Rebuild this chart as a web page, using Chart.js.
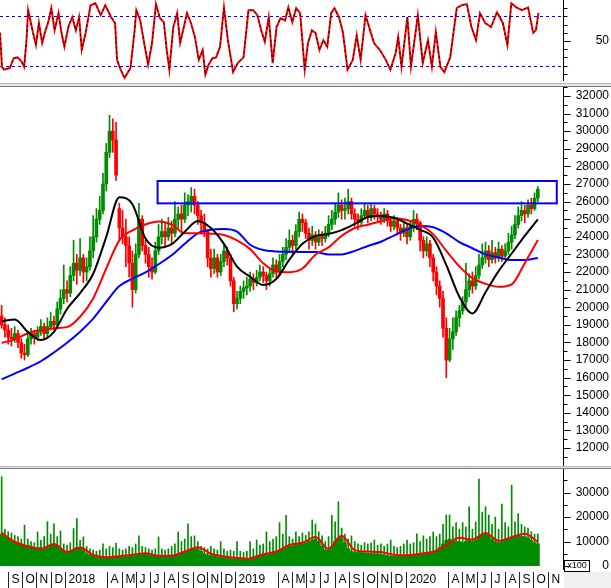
<!DOCTYPE html>
<html>
<head>
<meta charset="utf-8">
<title>Price chart</title>
<script src="https://cdn.jsdelivr.net/npm/chart.js@4.4.1/dist/chart.umd.min.js"></script>
<style>
  html, body { margin: 0; padding: 0; background: #fff; }
  #wrap { position: relative; width: 611px; height: 588px; overflow: hidden; background: #fff; }
  #wrap canvas { position: absolute; left: 0; }
  .sep { position: absolute; left: 0; width: 611px; height: 4px; box-sizing: border-box;
         background: #e6e6e6; border-top: 1px solid #b8b8b8; border-bottom: 1px solid #7a7a7a; }
</style>
</head>
<body>
<div id="wrap">
  <canvas id="stoch" width="611" height="83" style="top:0"></canvas>
  <div class="sep" style="top:83px"></div>
  <canvas id="price" width="611" height="379" style="top:87px"></canvas>
  <div class="sep" style="top:466px;height:3px"></div>
  <canvas id="volume" width="611" height="119" style="top:469px"></canvas>
</div>
<script>
// weekly bars, week 0 = mid Aug 2017, last week = mid Oct 2020
const openPx = [
  19500,19000,18700,18300,18200,18500,18000,17400,17300,18200,
  18500,18300,18600,18900,18500,18900,19200,19000,19900,20500,
  21000,20800,21800,22500,22100,22800,22000,22300,23200,24000,
  25000,25500,27000,28800,30000,29500,25600,24500,24000,23500,
  22500,21000,23000,25000,23500,23000,22300,22000,23200,24000,
  24300,24000,24500,24200,25000,25300,25000,25800,26000,26300,
  25800,25200,24800,24300,22800,22200,22800,22000,22600,23200,
  22800,21500,20200,20500,20900,21100,21200,21600,21400,21700,
  22000,21800,21500,21900,22400,22000,22600,23000,23400,23800,
  23500,24300,25000,24800,24200,23800,24100,23700,24000,23900,
  24200,24700,25000,25400,25800,25500,25600,26000,25300,25000,
  24800,25200,25500,25100,25600,25300,25200,25000,25300,24900,
  24600,24900,24500,24200,24500,24000,24600,25000,24800,23800,
  23200,23600,22800,22000,21200,20500,18800,17000,18200,18600,
  19400,19800,20300,21000,21500,21200,21800,22400,22800,23200,
  22700,23100,22800,23300,22900,23200,23700,24100,24700,25200,
  25500,25300,25800,25600,26200
];
const highPx = [
  20100,19400,19000,18800,18900,18700,18200,17900,18500,18800,
  18700,18900,19300,19100,19400,19700,19500,20300,21000,22400,
  21500,22300,23800,23000,23900,23000,22800,24000,25200,25600,
  26300,27600,29300,30900,30700,30500,25900,25500,25000,24000,
  23200,23600,25900,25200,23800,23400,22800,23700,24700,25000,
  24800,25100,24900,26000,25700,25800,26500,26400,26800,26700,
  26000,25500,25300,24400,23300,23300,23000,23000,23600,23400,
  23000,21700,20900,21200,21500,21700,22000,21900,22100,22400,
  22300,22000,22200,22800,22700,23000,23400,23900,24400,24100,
  24700,25400,25300,25000,24500,24600,24300,24400,24300,24600,
  25200,25500,25900,26500,26100,26200,26700,26200,25600,25300,
  25600,25900,25800,25900,25800,25600,25400,25600,25500,25100,
  25200,25100,24700,24900,24700,24900,25500,25300,24900,24000,
  24000,23800,23000,22300,21500,20900,19400,18800,19400,19800,
  20100,20600,22500,21900,22000,22300,23000,23600,23700,23500,
  23800,23400,23700,23500,23600,24200,24600,25200,25700,26000,
  25800,26100,26200,26500,26850
];
const lowPx = [
  18800,18300,17900,17800,18000,17700,17100,17000,17200,17900,
  17900,18100,18400,18200,18300,18700,18700,18900,19600,20200,
  20300,20600,21500,21300,21800,21400,21500,22100,22800,23700,
  24700,25300,26600,28500,28800,27200,23800,23600,22300,21700,
  20000,20800,22800,23200,22500,21700,21600,21900,23000,23600,
  23400,23800,23600,24000,24400,24200,24800,25200,25400,25300,
  24700,24300,24000,22300,21700,21900,21700,21800,22300,22400,
  21200,19750,19900,20200,20500,20700,20900,21000,21200,21500,
  21400,21000,21200,21700,21700,21800,22300,22700,23100,23000,
  23300,24000,24300,23900,23300,23500,23300,23500,23500,23700,
  24000,24400,24700,25100,25000,25000,25300,25000,24600,24400,
  24600,25000,24800,24900,25000,24900,24700,24800,24600,24300,
  24400,24100,23800,24000,23600,23800,24300,24400,23200,22800,
  22900,22300,21500,20700,20000,18300,16000,16900,17600,18400,
  18900,19600,20000,20600,20800,21000,21600,22200,22500,22300,
  22500,22500,22600,22600,22700,23000,23300,23900,24500,24900,
  24800,25100,25300,25500,26000
];
const closePx = [
  19000,18700,18300,18200,18500,18000,17400,17300,18200,18500,
  18300,18600,18900,18500,18900,19200,19000,19900,20500,21000,
  20800,21800,22500,22100,22800,22000,22300,23200,24000,25000,
  25500,27000,28800,30000,29500,27500,24500,24000,23500,22500,
  21000,23000,25000,23500,23000,22300,22000,23200,24000,24300,
  24000,24500,24200,25000,25300,25000,25800,26000,26300,25800,
  25200,24800,24300,22800,22200,22800,22000,22600,23200,22800,
  21500,20200,20500,20900,21100,21200,21600,21400,21700,22000,
  21800,21500,21900,22400,22000,22600,23000,23400,23800,23500,
  24300,25000,24800,24200,23800,24100,23700,24000,23900,24200,
  24700,25000,25400,25800,25500,25600,26000,25300,25000,24800,
  25200,25500,25100,25600,25300,25200,25000,25300,24900,24600,
  24900,24500,24200,24500,24000,24600,25000,24800,23800,23200,
  23600,22800,22000,21200,20500,18800,17000,18200,18600,19400,
  19800,20300,21000,21500,21200,21800,22400,22800,23200,22700,
  23100,22800,23300,22900,23200,23700,24100,24700,25200,25500,
  25300,25800,25600,26200,26700
];

// moving averages, one value every 4th week
const maStep = 4;
const maBlack = [
  19200,19300,18600,18140,18600,19900,20800,21900,24000,26250,
  25850,23900,23380,23580,24290,24900,24500,23600,22300,21730,
  21260,21600,22700,23600,24050,24160,24380,24730,25120,25180,
  25080,24750,24400,23950,22400,20600,19650,20850,22050,23050,
  24050,24990
];
const maRed = [
  17970,18170,18520,18700,18810,18870,19460,20500,22200,23800,
  24370,24700,24870,24700,24200,24200,24180,24100,23800,23300,
  22500,22030,21990,22200,22980,23400,24050,24500,24690,24880,
  25050,24950,24680,24150,23200,22320,21650,21330,21160,21300,
  22500,23820
];
const maBlue = [
  15900,16230,16560,16930,17430,17980,18610,19350,20300,21200,
  21620,21980,22440,22950,23600,24200,24400,24440,24290,23550,
  23250,23170,23150,23140,23130,23000,23000,23200,23480,23720,
  24070,24420,24610,24540,24200,23700,23350,23000,22830,22680,
  22680,22800
];

// volume (x100): usual level and biggest session of each week
const volBase = [
  13000,12000,11000,10500,10000,9500,9000,8500,8500,8000,
  7500,7500,7500,7000,7500,8500,9000,8500,7000,6000,
  5500,6000,6500,7500,7500,6500,5000,4500,4000,3500,
  3300,3300,3500,3600,3800,3800,3700,3600,3800,4000,
  4200,4500,5000,5000,4800,4500,4200,4000,3800,3800,
  3800,4000,4200,4500,5000,5500,6000,6500,7000,7000,
  7000,6000,5000,4500,4300,4000,3800,3500,3300,3200,
  3000,2900,2800,2700,2700,2800,3200,3800,4200,4500,
  4800,5000,5200,5500,6000,6500,7000,7800,8000,8200,
  8500,8800,9000,9500,10000,10500,11000,10000,8000,6500,
  6500,8000,10000,11500,11500,9500,7000,6000,5500,5500,
  5500,5300,5200,5000,5000,5000,4800,4500,4200,4000,
  4000,3900,3900,4000,4000,4200,4300,4500,4800,5000,
  5000,5200,5500,6000,7500,9000,10500,11000,10500,10000,
  10000,9500,10000,10500,10000,10500,12000,12500,13000,12500,
  11000,10000,9500,10000,10500,11000,11500,12000,12500,12000,
  12000,11500,10500,9500,9000
];
const volPeak = [
  36400,15000,14000,13500,12500,12000,11000,16700,11000,10000,
  9500,13900,10500,12000,18100,13000,17200,12000,14300,9000,
  8500,9500,15300,19400,10500,11900,8000,7000,6500,6000,
  6500,9000,7000,8000,7500,9400,7000,6500,7000,8000,
  7500,9000,12300,8000,7500,7000,6500,7000,11900,7000,
  6500,7000,8000,9000,13900,10000,11000,17200,12000,12300,
  10000,8000,7500,7000,8000,7000,6500,10000,7000,6000,
  6500,6000,10000,6000,5500,6000,10000,7000,10600,8500,
  9000,13900,10000,11000,12000,17700,13000,20700,12000,11000,
  13900,12000,13500,12500,14000,18800,17200,14000,12300,10000,
  12000,20700,18000,26200,15500,13000,11000,12300,10000,9000,
  8500,9500,9000,9500,10600,8500,9000,8000,9000,10600,
  8000,7500,8000,9000,10600,9000,9500,13100,10000,12300,
  11000,12000,13900,12000,13000,17000,20800,20800,16000,17700,
  15000,17700,16000,24200,15000,18000,35500,22000,24200,20800,
  17000,20000,15000,25300,17700,16000,33000,18000,21400,17000,
  16000,15500,14000,13000,13100
];
const volMa = [
  13500,9800,8000,7000,9000,5700,7600,4500,3600,4000,
  4600,5200,4200,4200,5800,7700,5000,3900,3300,3000,
  4800,5900,8600,9500,11800,7000,12400,6500,5900,5700,
  4600,4400,5000,5800,8500,11500,10800,13500,10300,11800,
  13200,9900
];

// stochastic oscillator
const stochWeek = [
  0.0,0.6,1.2,3.0,4.2,5.4,6.6,7.4,8.1,8.6,9.3,10.1,11.0,11.9,12.9,13.7,14.9,15.7,16.7,17.9,
  18.8,19.7,20.9,22.1,23.2,24.2,25.0,26.2,27.7,29.2,30.8,32.2,34.0,35.2,35.8,36.9,38.1,39.9,41.1,41.7,
  42.9,44.1,45.3,46.5,47.7,48.9,50.1,51.0,51.8,53.0,54.2,55.1,56.0,57.2,58.4,59.6,60.8,62.0,62.8,63.8,
  65.0,66.1,67.3,68.5,69.7,71.3,72.7,74.5,76.0,77.5,78.7,79.9,81.0,82.2,83.4,84.6,85.8,87.2,88.2,89.4,
  90.6,91.8,93.2,94.2,95.4,96.5,97.7,98.9,100.1,101.3,102.3,103.7,104.9,106.3,107.9,109.1,110.3,111.8,113.2,114.4,
  116.2,118.0,119.4,121.0,121.8,122.8,124.6,125.7,127.8,129.3,130.9,132.1,133.3,134.7,135.9,137.7,139.7,141.2,142.8,144.2,
  145.6,146.8,148.4,150.2,152.0,153.8,155.2,156.4,157.9,159.7,161.5,163.1,163.9,164.7
];
const stochK = [
  60,18.5,15,17,29,30,25,18.5,51,87.6,75,60,45,72,47.5,60,75,90,63,84,
  60,43,67,79,63,79,39,60,93.6,96,81.5,93.6,79,72,27,15,5,17,60,87.6,
  75,47.5,21,47.5,95,78,73,39,15,67,84,47.5,63,84,72,55,27,39,9,21,
  29,30,43,91,51,12,23,30,87.6,87.6,81.5,63,49,79,23,67,78,75,91,73,
  90,84,15,47.5,63,60,39,51,43,84,90,79,60,15,27,57,27,81.5,63,47.5,
  39,27,15,35,55,18.5,79,18.5,81.5,23,51,18.5,61,18.5,12,30,90,93.6,95,67,
  51,84,72,67,85,72,45,96,91,87.6,91,60,63,84
];
const stochBands = [80, 20];

// time axis
const monthLabels = ['S','O','N','D','2018','','','A','M','J','J','A','S','O','N','D',
  '2019','','','A','M','J','J','A','S','O','N','D','2020','','','A','M','J','J','A','S','O','N'];
const firstMonthWeek = 2.45;
const weeksPerMonth = 4.343;
const X_MAX = 172.2;

// resistance box
const boxWeeks = [48.2, 170.3];
const boxPrices = [25900, 27170];

// axis ticks
const stochMajor = [50];
const stochMinor = [10, 20, 30, 40, 60, 70, 80, 90];
const priceMajor = [12000,13000,14000,15000,16000,17000,18000,19000,20000,21000,22000,
  23000,24000,25000,26000,27000,28000,29000,30000,31000,32000];
const priceMinor = [11500,12500,13500,14500,15500,16500,17500,18500,19500,20500,21500,
  22500,23500,24500,25500,26500,27500,28500,29500,30500,31500,32500];
const volMajor = [0, 10000, 20000, 30000];
const volMinor = [5000, 15000, 25000, 35000];

const UP = '#008c00';
const DOWN = '#ff0000';
const FONT = '12px "Liberation Sans", Arial, sans-serif';

const weekX = i => i + 0.5;

function baseOptions(yMin, yMax, padBottom) {
  return {
    responsive: false,
    animation: false,
    devicePixelRatio: 1,
    events: [],
    layout: { padding: { left: 0, right: 48, top: 0, bottom: padBottom } },
    plugins: { legend: { display: false }, tooltip: { enabled: false } },
    scales: {
      x: { type: 'linear', min: 0, max: X_MAX, display: false, offset: false },
      y: { type: 'linear', min: yMin, max: yMax, display: false }
    }
  };
}

// right-hand axis drawn by hand: line, long/short ticks, labels
function rightAxis(id, major, minor, extraBottom) {
  return {
    id,
    afterDraw(chart) {
      const { ctx, chartArea: a, scales: { y } } = chart;
      const x0 = Math.round(a.right) + 0.5;
      ctx.save();
      ctx.strokeStyle = '#000';
      ctx.lineWidth = 1;
      ctx.beginPath();
      ctx.moveTo(x0, a.top);
      ctx.lineTo(x0, a.bottom + extraBottom);
      minor.forEach(v => {
        const py = Math.round(y.getPixelForValue(v)) + 0.5;
        ctx.moveTo(x0, py);
        ctx.lineTo(x0 + 4, py);
      });
      major.forEach(v => {
        const py = Math.round(y.getPixelForValue(v)) + 0.5;
        ctx.moveTo(x0, py);
        ctx.lineTo(x0 + 7, py);
      });
      ctx.stroke();
      ctx.fillStyle = '#000';
      ctx.font = FONT;
      ctx.textAlign = 'right';
      ctx.textBaseline = 'middle';
      major.forEach(v => ctx.fillText(String(v), 609, y.getPixelForValue(v)));
      ctx.restore();
    }
  };
}

const bandPlugin = {
  id: 'bands',
  beforeDatasetsDraw(chart) {
    const { ctx, chartArea: a, scales: { y } } = chart;
    ctx.save();
    ctx.strokeStyle = '#0000ff';
    ctx.lineWidth = 1;
    ctx.setLineDash([3, 3]);
    stochBands.forEach(v => {
      const py = Math.round(y.getPixelForValue(v)) + 0.5;
      ctx.beginPath();
      ctx.moveTo(a.left, py);
      ctx.lineTo(a.right, py);
      ctx.stroke();
    });
    ctx.restore();
  }
};

const boxPlugin = {
  id: 'box',
  afterDatasetsDraw(chart) {
    const { ctx, scales: { x, y } } = chart;
    const x1 = x.getPixelForValue(boxWeeks[0]);
    const x2 = x.getPixelForValue(boxWeeks[1]);
    const y1 = y.getPixelForValue(boxPrices[1]);
    const y2 = y.getPixelForValue(boxPrices[0]);
    ctx.save();
    ctx.strokeStyle = '#0000ff';
    ctx.lineWidth = 2;
    ctx.strokeRect(x1, y1, x2 - x1, y2 - y1);
    ctx.restore();
  }
};

const stripPlugin = {
  id: 'strip',
  afterDraw(chart) {
    const { ctx, chartArea: a, scales: { x } } = chart;
    const top = 103;
    const H = chart.height;
    ctx.save();
    ctx.fillStyle = '#f0f0f0';
    ctx.fillRect(Math.round(a.right) + 1, top, chart.width - a.right, H - top);
    // x100 unit box
    ctx.strokeStyle = '#000';
    ctx.lineWidth = 1;
    ctx.strokeRect(Math.round(a.right) + 1.5, 91.5, 25, 11);
    ctx.fillStyle = '#000';
    ctx.font = '9px "Liberation Sans", Arial, sans-serif';
    ctx.textAlign = 'center';
    ctx.textBaseline = 'middle';
    ctx.fillText('x100', Math.round(a.right) + 14, 97);
    // month separators and labels
    ctx.font = FONT;
    ctx.textAlign = 'left';
    ctx.strokeStyle = '#222';
    monthLabels.forEach((lab, m) => {
      if (!lab) return;
      const px = Math.round(x.getPixelForValue(firstMonthWeek + m * weeksPerMonth)) + 0.5;
      ctx.beginPath();
      ctx.moveTo(px, top);
      ctx.lineTo(px, H);
      ctx.stroke();
      ctx.fillText(lab, px + 3, 111);
    });
    ctx.restore();
  }
};

// stochastic panel
const stochPts = stochK.slice(0, stochWeek.length).map((v, i) => ({ x: stochWeek[i], y: v }));
new Chart(document.getElementById('stoch'), {
  type: 'line',
  data: {
    datasets: [
      { data: stochPts, borderColor: '#000', borderWidth: 1, borderDash: [2, 3], pointRadius: 0, tension: 0, order: 0 },
      { data: stochPts, borderColor: '#ff0000', borderWidth: 2, pointRadius: 0, tension: 0, order: 1 }
    ]
  },
  options: baseOptions(0, 100, 1),
  plugins: [bandPlugin, rightAxis('stochAxis', stochMajor, stochMinor, -1)]
});

// price panel
const candleColors = closePx.map((c, i) => (c >= openPx[i] ? UP : DOWN));
const maLine = (vals, color) => ({
  type: 'line',
  data: vals.map((v, k) => ({ x: weekX(k * maStep), y: v })),
  borderColor: color,
  borderWidth: 2,
  pointRadius: 0,
  cubicInterpolationMode: 'monotone',
  order: 0
});
new Chart(document.getElementById('price'), {
  type: 'bar',
  data: {
    datasets: [
      maLine(maBlack, '#000000'),
      maLine(maRed, '#ff0000'),
      maLine(maBlue, '#0000ff'),
      {
        data: openPx.map((o, i) => ({ x: weekX(i), y: [o, closePx[i]] })),
        backgroundColor: candleColors, barThickness: 3, grouped: false, borderWidth: 0, order: 2
      },
      {
        data: lowPx.map((l, i) => ({ x: weekX(i), y: [l, highPx[i]] })),
        backgroundColor: candleColors, barThickness: 1, grouped: false, borderWidth: 0, order: 3
      }
    ]
  },
  options: baseOptions(10980, 32510, 0),
  plugins: [boxPlugin, rightAxis('priceAxis', priceMajor, priceMinor, 0)]
});

// volume panel
new Chart(document.getElementById('volume'), {
  type: 'bar',
  data: {
    datasets: [
      {
        type: 'line',
        data: volMa.map((v, k) => ({ x: weekX(k * maStep), y: v })),
        borderColor: '#ff0000', borderWidth: 2, pointRadius: 0, cubicInterpolationMode: 'monotone', order: 0
      },
      {
        data: volPeak.map((v, i) => ({ x: weekX(i), y: v })),
        backgroundColor: UP, barThickness: 1, grouped: false, borderWidth: 0, order: 1
      },
      {
        data: volBase.map((v, i) => ({ x: weekX(i), y: v })),
        backgroundColor: UP, barPercentage: 1, categoryPercentage: 1, grouped: false, borderWidth: 0, order: 2
      }
    ]
  },
  options: baseOptions(0, 39600, 22),
  plugins: [rightAxis('volAxis', volMajor, volMinor, 4), stripPlugin]
});
</script>
</body>
</html>
